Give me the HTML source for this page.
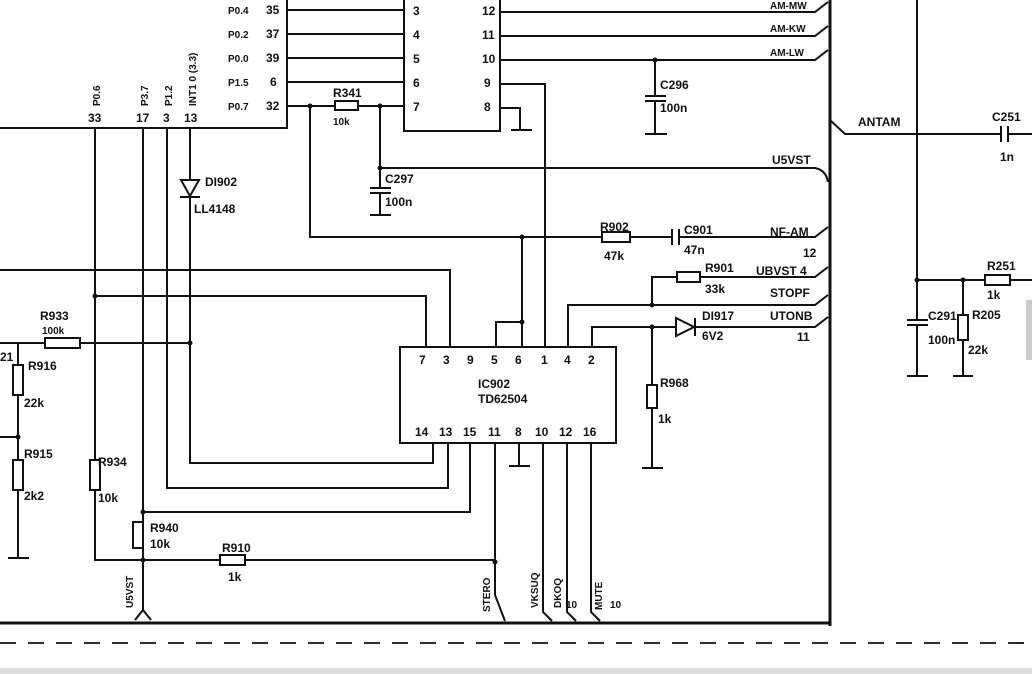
<!DOCTYPE html>
<html><head><style>
html,body{margin:0;padding:0;background:#fff;}
svg{display:block;}
text{font-family:"Liberation Sans",sans-serif;font-weight:bold;font-size:12px;fill:#111;}
.s{font-size:10px;}
</style></head><body>
<svg width="1032" height="674" viewBox="0 0 1032 674" xmlns="http://www.w3.org/2000/svg">
<g stroke="#111" stroke-width="2" fill="none">
<path d="M0 128 H287 V0"/>
<path d="M404 0 V131 H500 V0"/>
<path d="M287 10 H404 M287 34 H404 M287 58 H404 M287 82 H404 M287 106 H335 M358 106 H404"/>
<rect x="335" y="101" width="23" height="9"/>
<path d="M500 12 H815 L828 2 M500 36 H815 L828 26 M500 60 H815 L828 50"/>
<path d="M500 84 H545 V347"/>
<path d="M500 108 H520 V130 M511 130 H532"/>
<path d="M655 60 V96 M645 96 H666 M645 101 H666 M655 101 V133 M645 134 H667"/>
<path d="M310 106 V237 H602 M630 237 H672 M679 237 H815 L828 227"/>
<rect x="602" y="232" width="28" height="10"/>
<path d="M672 229 V245 M679 229 V245"/>
<path d="M380 106 V188 M370 188 H391 M370 193 H391 M380 193 V214 M370 215 H391"/>
<path d="M380 168 H815 Q826 170 828 182"/>
<path d="M522 237 V347 M496 347 V322 H522"/>
<path d="M568 347 V305 H815 L828 295 M652 305 V277 H677 M700 277 H815 L828 267"/>
<rect x="677" y="272" width="23" height="10"/>
<path d="M592 347 V327 H676 M695 327 H815 L828 317"/>
<path d="M676 318 V336 L694 327 Z M695 318 V336"/>
<path d="M652 327 V385 M652 408 V467 M642 468 H663"/>
<rect x="647" y="385" width="10" height="23"/>
<path d="M830 0 V626" stroke-width="3"/>
<path d="M0 623 H830" stroke-width="3"/>
<path d="M830 120 L845 134 H1001 M1008 134 H1032 M1001 126 V142 M1008 126 V142"/>
<path d="M917 0 V320 M907 320 H928 M907 325 H928 M917 325 V375 M907 376 H928"/>
<path d="M917 280 H985 M1010 280 H1032"/>
<rect x="985" y="275" width="25" height="10"/>
<path d="M963 280 V315 M963 340 V375 M953 376 H973"/>
<rect x="958" y="315" width="10" height="25"/>
<path d="M95 128 V460 M95 490 V560 H220 M245 560 H495"/>
<rect x="90" y="460" width="10" height="30"/>
<rect x="220" y="555" width="25" height="10"/>
<path d="M143 128 V522 M143 548 V612 M135 620 L143 610 L151 620"/>
<rect x="133" y="522" width="10" height="26"/>
<path d="M143 512 H470 V443"/>
<path d="M167 128 V488 H448 V443"/>
<path d="M190 128 V180 M190 198 V463 H433 V443"/>
<path d="M181 180 H199 L190 196 Z M180 197 H200"/>
<path d="M0 270 H450 V347 M95 296 H426 V347"/>
<path d="M0 343 H45 M80 343 H190"/>
<rect x="45" y="338" width="35" height="10"/>
<path d="M18 343 V365 M18 395 V460 M18 490 V557 M8 558 H29 M0 437 H18"/>
<rect x="13" y="365" width="10" height="30"/>
<rect x="13" y="460" width="10" height="30"/>
<rect x="400" y="347" width="216" height="96"/>
<path d="M495 443 V595 L505 621 M519 443 V465 M509 466 H530 M543 443 V612 L552 621 M567 443 V612 L576 621 M591 443 V612 L600 621"/>
<path d="M0 643 H1032" stroke-dasharray="16 12" stroke-width="1.8"/>
</g>
<g fill="#111">
<circle cx="310" cy="106" r="2.5"/><circle cx="380" cy="106" r="2.5"/><circle cx="380" cy="168" r="2.5"/>
<circle cx="655" cy="60" r="2.5"/><circle cx="522" cy="237" r="2.5"/><circle cx="522" cy="322" r="2.5"/>
<circle cx="652" cy="305" r="2.5"/><circle cx="652" cy="327" r="2.5"/><circle cx="917" cy="280" r="2.5"/>
<circle cx="963" cy="280" r="2.5"/><circle cx="95" cy="296" r="2.5"/><circle cx="190" cy="343" r="2.5"/>
<circle cx="18" cy="437" r="2.5"/><circle cx="143" cy="512" r="2.5"/><circle cx="143" cy="560" r="2.5"/>
<circle cx="495" cy="562" r="2.5"/>
</g>
<rect x="1026" y="300" width="6" height="60" fill="#ccc"/>
<rect x="0" y="668" width="1032" height="6" fill="#ddd"/>
<g>
<text x="228" y="14" class="s">P0.4</text><text x="266" y="14">35</text>
<text x="228" y="38" class="s">P0.2</text><text x="266" y="38">37</text>
<text x="228" y="62" class="s">P0.0</text><text x="266" y="62">39</text>
<text x="228" y="86" class="s">P1.5</text><text x="270" y="86">6</text>
<text x="228" y="110" class="s">P0.7</text><text x="266" y="110">32</text>
<text x="413" y="15">3</text><text x="413" y="39">4</text><text x="413" y="63">5</text><text x="413" y="87">6</text><text x="413" y="111">7</text>
<text x="482" y="15">12</text><text x="482" y="39">11</text><text x="482" y="63">10</text><text x="484" y="87">9</text><text x="484" y="111">8</text>
<text x="88" y="122">33</text><text x="136" y="122">17</text><text x="163" y="122">3</text><text x="184" y="122">13</text>
<text class="s" transform="translate(100,106) rotate(-90)">P0.6</text>
<text class="s" transform="translate(148,106) rotate(-90)">P3.7</text>
<text class="s" transform="translate(172,106) rotate(-90)">P1.2</text>
<text class="s" transform="translate(196,106) rotate(-90)">INT1 0 (3.3)</text>
<text x="333" y="97">R341</text><text x="333" y="125" class="s">10k</text>
<text x="205" y="186">DI902</text><text x="194" y="213">LL4148</text>
<text x="385" y="183">C297</text><text x="385" y="206">100n</text>
<text x="660" y="89">C296</text><text x="660" y="112">100n</text>
<text x="770" y="9" class="s">AM-MW</text><text x="770" y="32" class="s">AM-KW</text><text x="770" y="56" class="s">AM-LW</text>
<text x="772" y="164">U5VST</text>
<text x="600" y="231">R902</text><text x="604" y="260">47k</text>
<text x="684" y="234">C901</text><text x="684" y="254">47n</text>
<text x="770" y="236">NF-AM</text><text x="803" y="257">12</text>
<text x="705" y="272">R901</text><text x="705" y="293">33k</text>
<text x="756" y="275">UBVST 4</text><text x="770" y="297">STOPF</text>
<text x="702" y="320">DI917</text><text x="702" y="340">6V2</text>
<text x="770" y="320">UTONB</text><text x="797" y="341">11</text>
<text x="660" y="387">R968</text><text x="658" y="423">1k</text>
<text x="858" y="126">ANTAM</text>
<text x="992" y="121">C251</text><text x="1000" y="161">1n</text>
<text x="987" y="270">R251</text><text x="987" y="299">1k</text>
<text x="928" y="320">C291</text><text x="928" y="344">100n</text>
<text x="972" y="319">R205</text><text x="968" y="354">22k</text>
<text x="40" y="320">R933</text><text x="42" y="334" class="s">100k</text>
<text x="0" y="361">21</text>
<text x="28" y="370">R916</text><text x="24" y="407">22k</text>
<text x="24" y="458">R915</text><text x="24" y="500">2k2</text>
<text x="98" y="466">R934</text><text x="98" y="502">10k</text>
<text x="150" y="532">R940</text><text x="150" y="548">10k</text>
<text x="222" y="552">R910</text><text x="228" y="581">1k</text>
<text x="419" y="364">7</text><text x="443" y="364">3</text><text x="467" y="364">9</text><text x="491" y="364">5</text><text x="515" y="364">6</text><text x="541" y="364">1</text><text x="564" y="364">4</text><text x="588" y="364">2</text>
<text x="478" y="388">IC902</text><text x="478" y="403">TD62504</text>
<text x="415" y="436">14</text><text x="439" y="436">13</text><text x="463" y="436">15</text><text x="488" y="436">11</text><text x="515" y="436">8</text><text x="535" y="436">10</text><text x="559" y="436">12</text><text x="583" y="436">16</text>
<text class="s" transform="translate(133,608) rotate(-90)">U5VST</text>
<text class="s" transform="translate(490,612) rotate(-90)">STERO</text>
<text class="s" transform="translate(538,608) rotate(-90)">VKSUQ</text>
<text class="s" transform="translate(561,608) rotate(-90)">DKOQ</text>
<text x="566" y="608" class="s">10</text>
<text class="s" transform="translate(602,610) rotate(-90)">MUTE</text>
<text x="610" y="608" class="s">10</text>
</g>
</svg>
</body></html>
